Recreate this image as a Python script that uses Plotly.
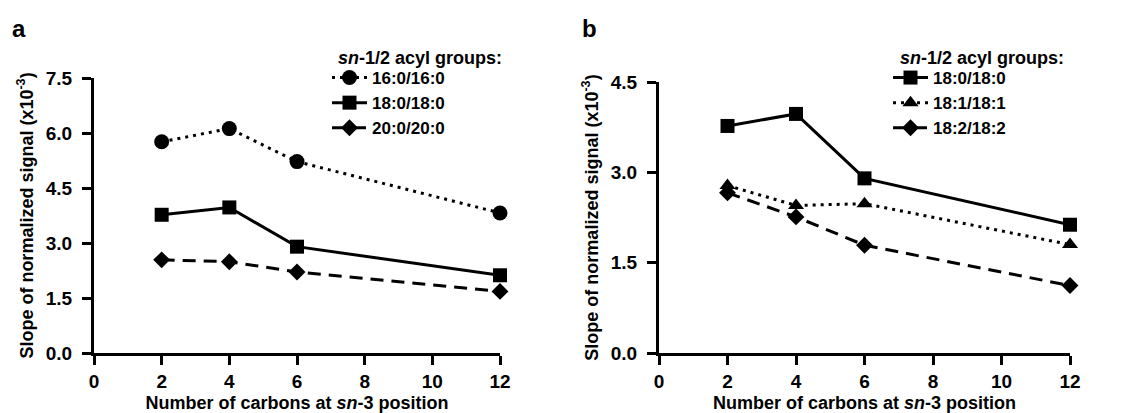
import plotly.graph_objects as go

x_vals = [2, 4, 6, 12]

# Panel a
a_names = ["16:0/16:0", "18:0/18:0", "20:0/20:0"]
a_16_0 = [5.76, 6.12, 5.22, 3.82]
a_18_0 = [3.77, 3.97, 2.90, 2.12]
a_20_0 = [2.54, 2.49, 2.21, 1.68]

# Panel b
b_names = ["18:0/18:0", "18:1/18:1", "18:2/18:2"]
b_18_0 = [3.77, 3.97, 2.90, 2.13]
b_18_1 = [2.78, 2.45, 2.48, 1.80]
b_18_2 = [2.66, 2.26, 1.79, 1.12]

legend_title = "<i>sn</i>-1/2 acyl groups:"
x_title = "Number of carbons at <i>sn</i>-3 position"
y_title = "Slope of normalized signal (x10<sup>-3</sup>)"

W, H = 1123, 413
FONT = "Arial, Liberation Sans, sans-serif"
DOT = "3px,5px"
DASH = "13px,8px"
fig = go.Figure()

def add(xa, ya, name, y, dash, symbol, size, legend):
    fig.add_trace(go.Scatter(
        x=x_vals, y=y, name=name, mode="lines+markers",
        xaxis=xa, yaxis=ya, legend=legend, cliponaxis=False,
        line=dict(color="black", width=3, dash=dash),
        marker=dict(symbol=symbol, size=size, color="black"),
    ))

add("x", "y", a_names[0], a_16_0, DOT, "circle", 15, "legend")
add("x", "y", a_names[1], a_18_0, "solid", "square", 14, "legend")
add("x", "y", a_names[2], a_20_0, DASH, "diamond", 13, "legend")
add("x2", "y2", b_names[0], b_18_0, "solid", "square", 14, "legend2")
add("x2", "y2", b_names[1], b_18_1, DOT, "triangle-up", 14, "legend2")
add("x2", "y2", b_names[2], b_18_2, DASH, "diamond", 13, "legend2")

def px_x(p):
    return p / W

def px_y(p):
    return 1 - p / H

tickfont = dict(family=FONT, size=19, color="black", weight="bold")
xtitlefont = dict(family=FONT, size=18, color="black", weight="bold")
ytitlefont = dict(family=FONT, size=18, color="black", weight="bold")
legfont = dict(family=FONT, size=17, color="black", weight="bold")

common_x = dict(range=[0, 12], dtick=2, tick0=0, showline=True, linewidth=3,
                linecolor="black", ticks="outside", ticklen=9, tickwidth=3,
                tickcolor="black", showgrid=False, zeroline=False,
                tickfont=tickfont, automargin=False, ticklabelstandoff=0,
                title=dict(text=x_title, font=xtitlefont, standoff=7))
common_y = dict(showline=True, linewidth=3, linecolor="black", ticks="outside",
                ticklen=9, tickwidth=3, tickcolor="black", showgrid=False,
                zeroline=False, tickfont=tickfont, tickformat=".1f",
                automargin=False, ticklabelstandoff=6,
                title=dict(text=y_title, font=ytitlefont, standoff=8))

leg_common = dict(xanchor="left", yanchor="top", bgcolor="rgba(0,0,0,0)",
                  itemwidth=35, tracegroupgap=0, font=legfont)

fig.update_layout(
    width=W, height=H, margin=dict(l=0, r=0, t=0, b=0),
    paper_bgcolor="white", plot_bgcolor="white",
    font=dict(family=FONT, color="black"),
    xaxis=dict(domain=[px_x(94), px_x(500)], anchor="y", **common_x),
    yaxis=dict(domain=[px_y(353), px_y(78)], anchor="x", range=[0, 7.5],
               dtick=1.5, tick0=0, **common_y),
    xaxis2=dict(domain=[px_x(659), px_x(1070)], anchor="y2", **common_x),
    yaxis2=dict(domain=[px_y(353), px_y(82)], anchor="x2", range=[0, 4.5],
                dtick=1.5, tick0=0, **common_y),
    legend=dict(x=px_x(327), y=px_y(60), **leg_common),
    legend2=dict(x=px_x(888), y=px_y(60), **leg_common),
    showlegend=True,
)

for txt, xp in ((legend_title, 336), (legend_title, 898)):
    fig.add_annotation(text=txt, x=px_x(xp), y=px_y(58), xref="paper", yref="paper",
                       xanchor="left", yanchor="middle", showarrow=False,
                       font=dict(family=FONT, size=18, color="black", weight="bold"))

fig.add_annotation(text="<b>a</b>", x=px_x(10), y=px_y(29), xref="paper", yref="paper",
                   xanchor="left", yanchor="middle", showarrow=False,
                   font=dict(family=FONT, size=24, color="black"))
fig.add_annotation(text="<b>b</b>", x=px_x(580), y=px_y(28), xref="paper", yref="paper",
                   xanchor="left", yanchor="middle", showarrow=False,
                   font=dict(family=FONT, size=24, color="black"))

fig.write_html("out.html")
